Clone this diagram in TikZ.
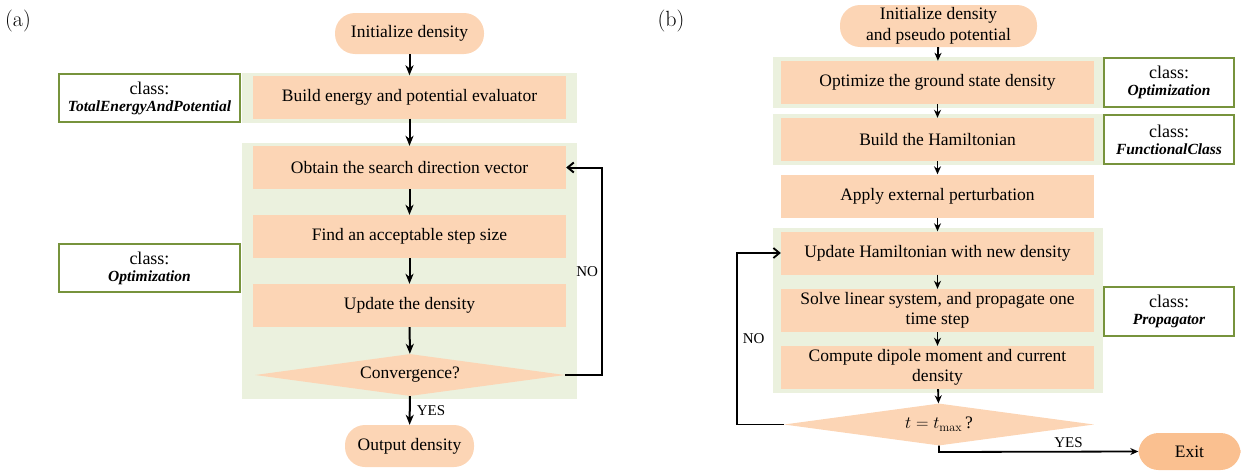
\documentclass[tikz,border=0pt]{standalone}
\usepackage{fontspec}
\usetikzlibrary{shapes.geometric,arrows.meta}
\newfontfamily\tnr{Liberation Serif}
\definecolor{peach}{HTML}{FCD5B5}
\definecolor{exitorange}{HTML}{FAC090}
\definecolor{bggreen}{HTML}{EBF1DE}
\definecolor{classgreen}{HTML}{77933C}
\tikzset{
  bodyfont/.style={font=\tnr\fontsize{17.5}{20}\selectfont},
  bgbox/.style={rectangle, fill=bggreen, inner sep=0pt},
  proc/.style={rectangle, fill=peach, inner sep=0pt, minimum width=313pt, minimum height=43pt, align=center, bodyfont},
  pill/.style={rectangle, rounded corners=20pt, fill=peach, inner sep=0pt, align=center, bodyfont},
  decision/.style={diamond, aspect=7.4, fill=peach, inner sep=0pt, minimum width=310pt, minimum height=42pt, bodyfont},
  classbox/.style={rectangle, draw=classgreen, line width=2.5pt, fill=white, inner sep=0pt, align=center, font=\tnr\fontsize{18}{19}\selectfont},
  flow/.style={line width=2pt, -{Stealth[length=10pt,width=8pt,inset=3pt]}},
  flowb/.style={line width=1.8pt, -{Stealth[length=8pt,width=7pt,inset=2.5pt]}},
  lab/.style={font=\tnr\fontsize{15}{16}\selectfont, inner sep=0pt},
  panel/.style={font=\fontsize{22}{24}\selectfont, inner sep=0pt}
}
\newcommand{\cname}[1]{\\[-2pt]{\fontsize{15.5}{16}\selectfont\bfseries\itshape #1}}
\begin{document}
\begin{tikzpicture}[x=1pt,y=-1pt]
\useasboundingbox (0,0) rectangle (1241,471);
% ---------------- panel (a)
\node[panel] (la) at (18,21) {(a)};
\node[bgbox, minimum width=335pt, minimum height=50pt] (bgA1) at (409.5,98) {};
\node[bgbox, minimum width=335pt, minimum height=256pt] (bgA2) at (409.5,271) {};
\node[pill, minimum width=149pt, minimum height=41pt] (initA) at (409.5,33.5) {Initialize density};
\node[proc] (buildA) at (409.5,97) {Build energy and potential evaluator};
\node[proc] (obtainA) at (409.5,167.5) {Obtain the search direction vector};
\node[proc] (findA) at (409.5,236.5) {Find an acceptable step size};
\node[proc] (updA) at (409.5,305.5) {Update the density};
\node[decision] (convA) at (410,375) {Convergence?};
\node[pill, minimum width=129pt, minimum height=42pt] (outA) at (409.5,446) {Output density};
\node[classbox, minimum width=181pt, minimum height=48pt] (classA1) at (149.5,98) {class:\cname{TotalEnergyAndPotential}};
\node[classbox, minimum width=181pt, minimum height=48pt] (classA2) at (149.5,268) {class:\cname{Optimization}};
\coordinate (loopA) at (602,0);
\draw[flow] (initA) -- (buildA);
\draw[flow] (buildA) -- (obtainA);
\draw[flow] (obtainA) -- (findA);
\draw[flow] (findA) -- (updA);
\draw[flow] (updA) -- (convA);
\draw[flow] (convA) -- (outA) node[lab, midway, right=6pt] {YES};
\draw[flow, arrows={-Straight Barb[length=6pt,width=10pt]}] (convA.east) -- (convA.east -| loopA) -- (obtainA.east -| loopA)
  node[lab, pos=0.5, left=3pt] {NO} -- (obtainA.east);
% ---------------- panel (b)
\node[panel] (lb) at (671,21) {(b)};
\node[bgbox, minimum width=330pt, minimum height=51pt] (bgB1) at (938,82.5) {};
\node[bgbox, minimum width=330pt, minimum height=51pt] (bgB2) at (938,139.5) {};
\node[bgbox, minimum width=330pt, minimum height=165pt] (bgB3) at (938,310.5) {};
\node[pill, minimum width=197pt, minimum height=42pt, font=\tnr\fontsize{17.5}{20.5}\selectfont] (initB) at (938.5,26) {Initialize density\\and pseudo potential};
\node[proc] (optB) at (937.5,82.5) {Optimize the ground state density};
\node[proc] (hamB) at (937.5,139.5) {Build the Hamiltonian};
\node[proc] (applyB) at (937.5,196) {Apply external perturbation};
\node[proc] (updB) at (937.5,253) {Update Hamiltonian with new density};
\node[proc] (solveB) at (937.5,310.5) {Solve linear system, and propagate one\\time step};
\node[proc] (compB) at (937.5,367.5) {Compute dipole moment and current\\density};
\node[decision] (tB) at (939,424.5) {$t = t_{\max}$\,?};
\node[pill, fill=exitorange, minimum width=102pt, minimum height=37pt] (exitB) at (1189.5,451.5) {Exit};
\node[classbox, minimum width=130pt, minimum height=49pt] (classB1) at (1169,82.5) {class:\cname{Optimization}};
\node[classbox, minimum width=130pt, minimum height=49pt] (classB2) at (1169,139.5) {class:\cname{FunctionalClass}};
\node[classbox, minimum width=130pt, minimum height=49pt] (classB3) at (1169,311.5) {class:\cname{Propagator}};
\coordinate (loopB) at (737,0);
\coordinate (yesB) at (0,452);
\draw[flowb] (initB) -- (optB);
\draw[flowb] (optB) -- (hamB);
\draw[flowb] (hamB) -- (applyB);
\draw[flowb] (applyB) -- (updB);
\draw[flowb] (updB) -- (solveB);
\draw[flowb] (solveB) -- (compB);
\draw[flowb] (compB) -- (tB);
\draw[flowb, arrows={-Straight Barb[length=6pt,width=10pt]}] (tB.west) -- (tB.west -| loopB) -- (updB.west -| loopB)
  node[lab, pos=0.5, right=5pt] {NO} -- (updB.west);
\draw[flowb] (tB.south) -- (tB.south |- yesB) -- (exitB.west)
  node[lab, pos=0.65, above=3pt] {YES};
\end{tikzpicture}
\end{document}
